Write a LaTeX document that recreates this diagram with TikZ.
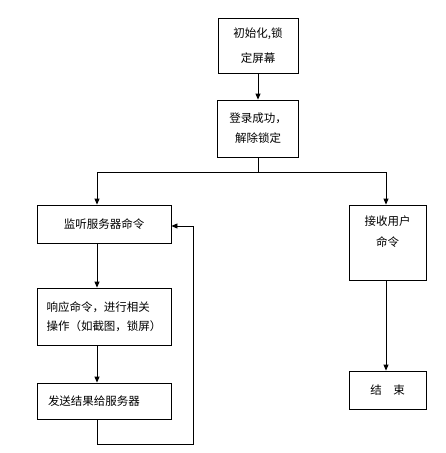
\documentclass[tikz,border=0pt]{standalone}
\usepackage{fontspec}
\setmainfont{Noto Sans CJK SC}
\usetikzlibrary{arrows.meta,positioning}

\begin{document}
\begin{tikzpicture}[x=1pt,y=-1pt,line width=.8pt,font=\fontsize{11.5}{20}\selectfont,
 box/.style={draw,inner sep=0pt,align=center},
 arr/.style={-{Triangle[length=6pt,width=5pt]}}]
\useasboundingbox (0,0) rectangle (445,453);
\node[box,minimum width=80,minimum height=55] (init) at (258,45.5) {初始化,锁\\[5pt]定屏幕};
\node[box,minimum width=81,minimum height=57] (unlock) at (258,128.5) {登录成功，\\解除锁定};
\node[box,minimum width=134,minimum height=38] (listen) at (104,224) {监听服务器命令};
\node[box,minimum width=134,minimum height=57,align=left,font=\fontsize{11.5}{19}\selectfont] (respond) at (104,316.5) {响应命令，进行相关\\操作（如截图，锁屏）};
\node[box,minimum width=134,minimum height=36,align=left,text width=112,inner xsep=11] (send) at (104,401) {发送结果给服务器};
\node[box,minimum width=77,minimum height=75,inner ysep=10,text depth=23,font=\fontsize{11.5}{21}\selectfont] (recv) at (387.5,242.5) {接收用户\\命令};
\node[box,minimum width=77,minimum height=38] (stop) at (387.5,390) {结　束};
\coordinate (fork) at (258,172);
\coordinate (back) at (193,444);
\draw[arr] (init) -- (unlock);
\draw (unlock) -- (fork);
\draw[arr] (fork) -| ([xshift=-7]listen.north);
\draw[arr] (fork) -| ([xshift=-1.5]recv.north);
\draw[arr] ([xshift=-7]listen.south) -- ([xshift=-7]respond.north);
\draw[arr] ([xshift=-7]respond.south) -- ([xshift=-7]send.north);
\draw[arr] ([xshift=-7]send.south) |- (back) |- ([yshift=-2]listen.east);
\draw[arr] ([xshift=-1.5]recv.south) -- ([xshift=-1.5]stop.north);
\end{tikzpicture}
\end{document}
